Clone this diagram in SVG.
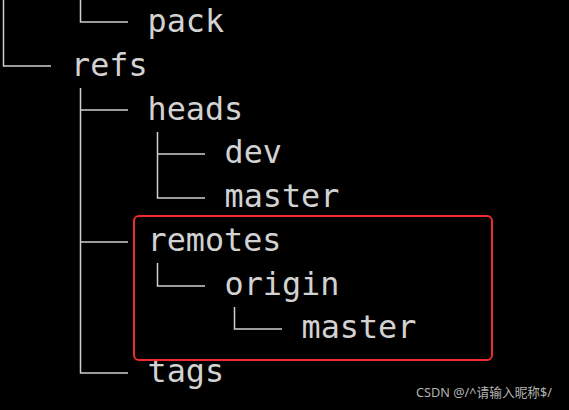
<svg xmlns="http://www.w3.org/2000/svg" width="569" height="410" viewBox="0 0 569 410">
<style>
.t{font-family:"DejaVu Sans Mono","Liberation Mono",monospace;font-size:31.8px;fill:#d2d2d2}
.l{stroke:#cfcfcf;stroke-width:1.5;fill:none}
.wm{font-family:"Noto Sans","Noto Sans CJK SC",sans-serif;font-size:12.7px;fill:#b4b4b4}
</style>
<rect width="569" height="410" fill="#000"/>
<g id="connectors">
<path class="l" d="M3.5 0V66H51"/>
<path class="l" d="M80.5 0V22H128"/>
<path class="l" d="M80.5 88V373H128M80.5 110H128M80.5 242H128"/>
<path class="l" d="M157.5 132V198H205M157.5 154H205"/>
<path class="l" d="M157.5 263V286H205"/>
<path class="l" d="M234.5 307V329H282"/>
</g>
<g id="pack"><text class="t" x="147.5" y="32">pack</text></g>
<g id="refs"><text class="t" x="71" y="75.75">refs</text></g>
<g id="heads"><text class="t" x="147.5" y="119.5">heads</text></g>
<g id="dev"><text class="t" x="224.5" y="163.25">dev</text></g>
<g id="master-local"><text class="t" x="224.5" y="207">master</text></g>
<g id="remotes"><text class="t" x="147.5" y="250.75">remotes</text></g>
<g id="origin"><text class="t" x="224.5" y="294.5">origin</text></g>
<g id="master-remote"><text class="t" x="301.5" y="338.25">master</text></g>
<g id="tags"><text class="t" x="147.5" y="382">tags</text></g>
<g id="highlight"><rect x="134" y="216" width="358" height="144" rx="5" fill="none" stroke="#f12b2b" stroke-width="2"/></g>
<text class="wm" x="416" y="397">CSDN @/^请输入昵称$/</text>
</svg>
